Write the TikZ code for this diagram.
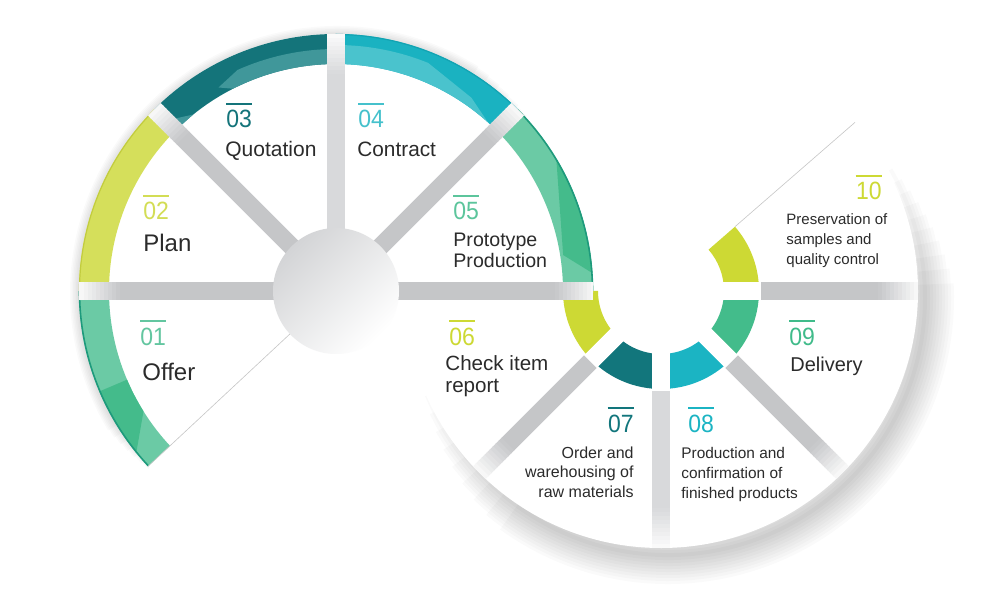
\documentclass[tikz,border=0pt]{standalone}
\usepackage{fontspec}
\usepackage{graphicx}
\setmainfont{Liberation Sans}
\usetikzlibrary{calc}
\definecolor{gA}{HTML}{6BCAA5}
\definecolor{gB}{HTML}{44BB8B}
\definecolor{gR}{HTML}{1E9A7C}
\definecolor{yA}{HTML}{D5DF5B}
\definecolor{yR}{HTML}{C2CC3E}
\definecolor{tA}{HTML}{14747A}
\definecolor{tB}{HTML}{40979A}
\definecolor{cA}{HTML}{1AB2C1}
\definecolor{cB}{HTML}{4AC3CD}
\definecolor{cR}{HTML}{13A3B2}
\definecolor{rY}{HTML}{CDD934}
\definecolor{rT}{HTML}{12767C}
\definecolor{rC}{HTML}{1BB4C3}
\definecolor{rG}{HTML}{43BC8B}
\definecolor{gapG}{HTML}{C5C6C8}
\definecolor{gapL}{HTML}{D8D9DB}
\definecolor{hubG}{HTML}{D3D4D6}
\definecolor{txt}{HTML}{2B2B2B}
\definecolor{nA}{HTML}{63C6A0}
\definecolor{nB}{HTML}{D3DD55}
\definecolor{nD}{HTML}{45C1CC}
\definecolor{nE}{HTML}{5CC59C}
\definecolor{nI}{HTML}{40BB8A}
\newcommand\bandseg[5]{\fill[#5] (#1:#3) arc[start angle=#1,end angle=#2,radius=#3] -- (#2:#4) arc[start angle=#2,end angle=#1,radius=#4] -- cycle;}
\newcommand\gapband[5]{%
  \begin{scope}[rotate=#1]
    \fill[#4] (#2,-#5) -- ({#3-40},-#5) -- ({#3-40},#5) -- (#2,#5) -- cycle;
    \foreach \k in {0,...,9}{
      \pgfmathtruncatemacro\pc{95-9*\k}
      \fill[#4!\pc!white] ({#3-40.5+4*\k},-#5) -- ({#3-35.5+4*\k},-#5) -- ({#3-35.5+4*\k},#5) -- ({#3-40.5+4*\k},#5) -- cycle;
    }
  \end{scope}}
\newcommand\numtxt[1]{\scalebox{0.92}[1]{#1}}
\tikzset{
  num/.style={inner sep=0pt, font=\fontsize{12.5}{12.5}\selectfont},
  lbl/.style={inner sep=0pt, text=txt},
  bar/.style={line width=1pt},
  softL/.style={black, opacity=0.018},
  softR/.style={black, opacity=0.018}
}
\begin{document}
\begin{tikzpicture}[x=0.5pt,y=0.5pt]
\useasboundingbox (0,0) rectangle (1000,600);
\fill[white] (0,0) rectangle (1000,600);

% ---------- soft outer shadows
\begin{scope}[shift={(337,307)}]
  \foreach \k in {0,...,6}{
    \pgfmathsetmacro\aS{40+3*\k}
    \pgfmathsetmacro\aE{223-2*\k}
    \draw[softL, line width={(2+3*\k)*0.5pt}] (\aS:257) arc[start angle=\aS,end angle=\aE,radius=257];
  }
\end{scope}
\begin{scope}[shift={(668,302)}]
  \foreach \k in {0,...,9}{
    \pgfmathsetmacro\aS{-162+4*\k}
    \pgfmathsetmacro\aE{30-3*\k}
    \draw[softR, line width={(4+6*\k)*0.5pt}] (\aS:257) arc[start angle=\aS,end angle=\aE,radius=257];
  }
\end{scope}

% ---------- left circle
\begin{scope}[shift={(336,309)}]
  \fill[white] (0,0) -- (0:257) arc[start angle=0,end angle=223,radius=257] -- cycle;
  % 01
  \bandseg{180}{223}{227}{257}{gA}
  \fill[gB] (203:257) arc[start angle=203,end angle=219,radius=257] -- (212:227) arc[start angle=212,end angle=203,radius=227] -- cycle;
  \draw[gR, line width=0.8pt] (180:256.5) arc[start angle=180,end angle=223,radius=256.5];
  % 02
  \bandseg{135}{180}{227}{257}{yA}
  \draw[yR, line width=0.6pt] (135:256.5) arc[start angle=135,end angle=180,radius=256.5];
  % 03
  \bandseg{90}{135}{227}{257}{tA}
  \fill[tB] (90:242) arc[start angle=90,end angle=114,radius=242] -- (120:235) -- (117:227) arc[start angle=117,end angle=90,radius=227] -- cycle;
  \fill[tB] (135:227) -- (135:241) -- (129:227) -- cycle;
  % 04
  \bandseg{45}{90}{227}{257}{cA}
  \fill[cB] (90:246) arc[start angle=90,end angle=68,radius=246] -- (55:236) -- (48:227) arc[start angle=48,end angle=90,radius=227] -- cycle;
  \draw[cR, line width=0.6pt] (45:256.5) arc[start angle=45,end angle=90,radius=256.5];
  % 05
  \bandseg{0}{45}{227}{257}{gA}
  \fill[gB] (31:257) arc[start angle=31,end angle=4,radius=257] -- (9:230) -- cycle;
  \draw[gR, line width=0.8pt] (0:256.5) arc[start angle=0,end angle=45,radius=256.5];
  % lower edge of 01
  \draw[gray!45, line width=0.3pt] (223:60) -- (223:257);
\end{scope}

% ---------- right circle
\begin{scope}[shift={(661,309)}]
  \fill[white] (-180:63) -- (-180:257) arc[start angle=-180,end angle=41,radius=257] -- (41:63) arc[start angle=41,end angle=-180,radius=63] -- cycle;
  \bandseg{-180}{-135}{63}{98}{rY}
  \bandseg{-135}{-90}{63}{98}{rT}
  \bandseg{-90}{-45}{63}{98}{rC}
  \bandseg{-45}{0}{63}{98}{rG}
  \bandseg{0}{41}{63}{98}{rY}
  \draw[gray!45, line width=0.3pt] (41:98) -- (41:257);
\end{scope}

% ---------- gaps
\begin{scope}[shift={(336,309)}]
  \clip (0,0) circle[radius=257];
  \gapband{180}{50}{257}{gapG}{9}
  \gapband{135}{50}{257}{gapG}{9}
  \gapband{90}{50}{257}{gapL}{9}
  \gapband{45}{50}{257}{gapG}{9}
  \gapband{0}{50}{259}{gapG}{9}
\end{scope}
\begin{scope}[shift={(661,309)}]
  \clip (0,0) circle[radius=257];
  \foreach \a in {-135,-90,-45,0} {
    \begin{scope}[rotate=\a]
      \fill[white] (58,-9) -- (100,-9) -- (100,9) -- (58,9) -- cycle;
    \end{scope}
  }
  \gapband{-135}{100}{257}{gapG}{9}
  \gapband{-90}{100}{257}{gapL}{9}
  \gapband{-45}{100}{257}{gapG}{9}
  \gapband{0}{100}{257}{gapG}{9}
\end{scope}

% ---------- hub
\shade[top color=hubG, bottom color=white, shading angle=45] (336,309) circle[radius=63];

% ---------- numbers
\node[num, text=nA, anchor=base west] (n01) at (140,255) {\numtxt{01}};
\node[num, text=nB, anchor=base west] (n02) at (143,380) {\numtxt{02}};
\node[num, text=tA, anchor=base west] (n03) at (226,472) {\numtxt{03}};
\node[num, text=nD, anchor=base west] (n04) at (358,472) {\numtxt{04}};
\node[num, text=nE, anchor=base west] (n05) at (453,380) {\numtxt{05}};
\node[num, text=rY, anchor=base west] (n06) at (449,255) {\numtxt{06}};
\node[num, text=rT, anchor=base east] (n07) at (634,168) {\numtxt{07}};
\node[num, text=rC, anchor=base west] (n08) at (688,168) {\numtxt{08}};
\node[num, text=nI, anchor=base west] (n09) at (789,255) {\numtxt{09}};
\node[num, text=rY, anchor=base east] (n10) at (882,400) {\numtxt{10}};
\draw[bar, nA] ([yshift=3pt]n01.north west) -- ([yshift=3pt]n01.north east);
\draw[bar, nB] ([yshift=3pt]n02.north west) -- ([yshift=3pt]n02.north east);
\draw[bar, tA] ([yshift=3pt]n03.north west) -- ([yshift=3pt]n03.north east);
\draw[bar, nD] ([yshift=3pt]n04.north west) -- ([yshift=3pt]n04.north east);
\draw[bar, nE] ([yshift=3pt]n05.north west) -- ([yshift=3pt]n05.north east);
\draw[bar, rY] ([yshift=3pt]n06.north west) -- ([yshift=3pt]n06.north east);
\draw[bar, rT] ([yshift=3pt]n07.north west) -- ([yshift=3pt]n07.north east);
\draw[bar, rC] ([yshift=3pt]n08.north west) -- ([yshift=3pt]n08.north east);
\draw[bar, nI] ([yshift=3pt]n09.north west) -- ([yshift=3pt]n09.north east);
\draw[bar, rY] ([yshift=3pt]n10.north west) -- ([yshift=3pt]n10.north east);

% ---------- labels
\node[lbl, anchor=base west, font=\fontsize{12}{12}\selectfont] (t01) at (142,220) {Offer};
\node[lbl, anchor=base west, font=\fontsize{12}{12}\selectfont] (t02) at (143,348) {Plan};
\node[lbl, anchor=base west, font=\fontsize{10.5}{12}\selectfont] (t03) at (225,443) {Quotation};
\node[lbl, anchor=base west, font=\fontsize{10.4}{12}\selectfont] (t04) at (357,443) {Contract};
\node[lbl, anchor=base west, font=\fontsize{9.8}{10}\selectfont] (t05) at (453,353) {\begin{tabular}[t]{@{}l@{}}Prototype\\Production\end{tabular}};
\node[lbl, anchor=base west, font=\fontsize{10.3}{11}\selectfont] (t06) at (445,229) {\begin{tabular}[t]{@{}l@{}}Check item\\report\end{tabular}};
\node[lbl, anchor=base east, font=\fontsize{8}{9.75}\selectfont] (t07) at (634,142) {\begin{tabular}[t]{@{}r@{}}Order and\\warehousing of\\raw materials\end{tabular}};
\node[lbl, anchor=base west, font=\fontsize{7.7}{10}\selectfont] (t08) at (681,142) {\begin{tabular}[t]{@{}l@{}}Production and\\confirmation of\\finished products\end{tabular}};
\node[lbl, anchor=base west, font=\fontsize{10}{12}\selectfont] (t09) at (790,228) {Delivery};
\node[lbl, anchor=base west, font=\fontsize{7.5}{10}\selectfont] (t10) at (786,375) {\begin{tabular}[t]{@{}l@{}}Preservation of\\samples and\\quality control\end{tabular}};
\end{tikzpicture}
\end{document}
